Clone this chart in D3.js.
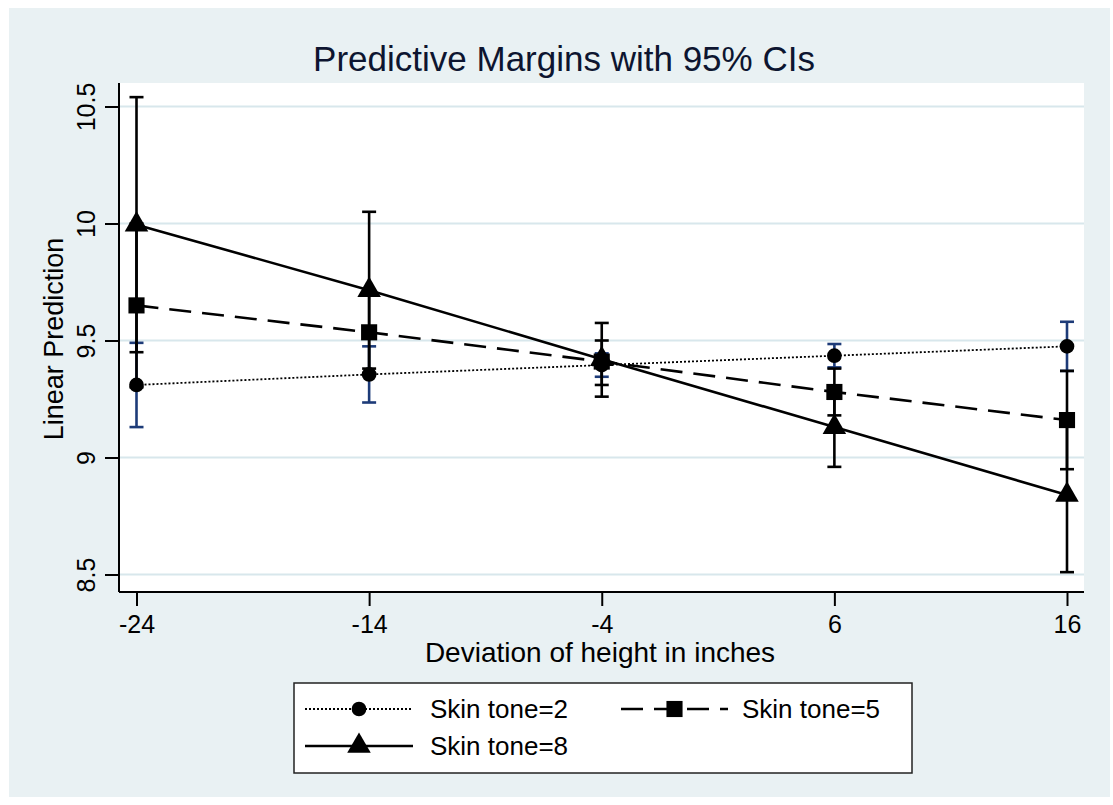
<!DOCTYPE html>
<html>
<head>
<meta charset="utf-8">
<script src="https://cdn.jsdelivr.net/npm/d3@7"></script>
<style>
  body { margin: 0; background: #fff; }
  svg { display: block; font-family: "Liberation Sans", Arial, sans-serif; }
</style>
</head>
<body>
<div id="chart"></div>
<script>
const xValues = [-24, -14, -4, 6, 16];
const xTicks = [-24, -14, -4, 6, 16];
const yTicks = [8.5, 9, 9.5, 10, 10.5];

// margins and 95% CI bounds per skin tone
const tone2 = [9.31, 9.355, 9.395, 9.435, 9.475];
const tone2Lo = [9.13, 9.235, 9.345, 9.385, 9.37];
const tone2Hi = [9.49, 9.475, 9.445, 9.485, 9.58];

const tone5 = [9.65, 9.535, 9.41, 9.28, 9.16];
const tone5Lo = [9.30, 9.36, 9.31, 9.18, 8.95];
const tone5Hi = [10.0, 9.71, 9.50, 9.38, 9.37];

const tone8 = [9.995, 9.715, 9.42, 9.13, 8.84];
const tone8Lo = [9.45, 9.38, 9.26, 8.96, 8.51];
const tone8Hi = [10.54, 10.05, 9.575, 9.30, 9.17];

const seriesNames = ['Skin tone=2', 'Skin tone=5', 'Skin tone=8'];

const width = 1113, height = 805;
const plot = { left: 119, right: 1084, top: 83, bottom: 592 };

const svg = d3.select('#chart').append('svg')
  .attr('width', width)
  .attr('height', height);

// outer graph region
svg.append('rect')
  .attr('x', 9).attr('y', 8)
  .attr('width', 1101).attr('height', 789)
  .attr('fill', '#e9f1f3');

svg.append('rect')
  .attr('x', plot.left).attr('y', plot.top)
  .attr('width', plot.right - plot.left).attr('height', plot.bottom - plot.top)
  .attr('fill', '#fff');

const x = d3.scaleLinear().domain([-24, 16]).range([136.5, 1067]);
const y = d3.scaleLinear().domain([8.5, 10.5]).range([574.5, 106.5]);

// gridlines
svg.append('g')
  .selectAll('line')
  .data(yTicks)
  .enter()
  .append('line')
  .attr('x1', plot.left).attr('x2', plot.right)
  .attr('y1', d => y(d)).attr('y2', d => y(d))
  .attr('stroke', '#d8e7ec')
  .attr('stroke-width', 2);

// axes
const yAxis = svg.append('g')
  .attr('transform', `translate(${plot.left},0)`)
  .call(d3.axisLeft(y).tickValues(yTicks).tickSize(14).tickPadding(6)
    .tickFormat(d => String(d)));
yAxis.select('.domain').attr('d', `M0,${plot.top}V${plot.bottom}`).attr('stroke', '#000').attr('stroke-width', 2);
yAxis.selectAll('.tick line').attr('stroke', '#000').attr('stroke-width', 2);
yAxis.selectAll('.tick text')
  .attr('x', null).attr('dy', null)
  .attr('transform', 'translate(-24,0) rotate(-90)')
  .attr('text-anchor', 'middle')
  .attr('fill', '#000')
  .style('font-size', '25px');

const xAxis = svg.append('g')
  .attr('transform', `translate(0,${plot.bottom})`)
  .call(d3.axisBottom(x).tickValues(xTicks).tickSize(14).tickPadding(6)
    .tickFormat(d => String(d)));
xAxis.select('.domain').attr('d', `M${plot.left},0H${plot.right}`).attr('stroke', '#000').attr('stroke-width', 2);
xAxis.selectAll('.tick line').attr('stroke', '#000').attr('stroke-width', 2);
xAxis.selectAll('.tick text')
  .attr('dy', null).attr('y', 41)
  .attr('fill', '#000')
  .style('font-size', '25px');

// titles
svg.append('text')
  .attr('x', 564).attr('y', 71)
  .attr('text-anchor', 'middle')
  .style('font-size', '35px')
  .attr('fill', '#0d1530')
  .text('Predictive Margins with 95% CIs');

svg.append('text')
  .attr('x', 600).attr('y', 662)
  .attr('text-anchor', 'middle')
  .style('font-size', '28px')
  .text('Deviation of height in inches');

svg.append('text')
  .attr('transform', 'translate(63,339) rotate(-90)')
  .attr('text-anchor', 'middle')
  .style('font-size', '27px')
  .text('Linear Prediction');

const series = [
  { mid: tone2, lo: tone2Lo, hi: tone2Hi, ci: '#1d3b78', dash: '2,2', lw: 1.8, marker: d3.symbolCircle, size: 170 },
  { mid: tone5, lo: tone5Lo, hi: tone5Hi, ci: '#000', dash: '22,11', lw: 2.6, marker: d3.symbolSquare, size: 260 },
  { mid: tone8, lo: tone8Lo, hi: tone8Hi, ci: '#000', dash: null, lw: 2.6, marker: d3.symbolTriangle, size: 240 }
];

// confidence intervals
series.forEach(s => {
  const g = svg.append('g').attr('stroke', s.ci).attr('stroke-width', 2.6);
  xValues.forEach((xv, i) => {
    g.append('line')
      .attr('x1', x(xv)).attr('x2', x(xv))
      .attr('y1', y(s.lo[i])).attr('y2', y(s.hi[i]));
    [s.lo[i], s.hi[i]].forEach(v => {
      g.append('line')
        .attr('x1', x(xv) - 7).attr('x2', x(xv) + 7)
        .attr('y1', y(v)).attr('y2', y(v));
    });
  });
});

const line = d3.line()
  .x(d => x(d[0]))
  .y(d => y(d[1]));

series.forEach(s => {
  svg.append('path')
    .datum(xValues.map((xv, i) => [xv, s.mid[i]]))
    .attr('d', line)
    .attr('fill', 'none')
    .attr('stroke', '#000')
    .attr('stroke-width', s.lw)
    .attr('stroke-dasharray', s.dash);
});

series.forEach(s => {
  svg.append('g')
    .selectAll('path')
    .data(xValues.map((xv, i) => [xv, s.mid[i]]))
    .enter()
    .append('path')
    .attr('d', d3.symbol().type(s.marker).size(s.size))
    .attr('transform', d => `translate(${x(d[0])},${y(d[1])})`)
    .attr('fill', '#000');
});

// legend
const legend = svg.append('g');
legend.append('rect')
  .attr('x', 294).attr('y', 683)
  .attr('width', 618).attr('height', 90)
  .attr('fill', '#fff')
  .attr('stroke', '#222')
  .attr('stroke-width', 1.5);

const legendPos = [
  { x0: 305, x1: 413, tx: 430, y: 709 },
  { x0: 621, x1: 728, tx: 742, y: 709 },
  { x0: 305, x1: 413, tx: 430, y: 746 }
];

series.forEach((s, i) => {
  const p = legendPos[i];
  legend.append('line')
    .attr('x1', p.x0).attr('x2', p.x1)
    .attr('y1', p.y).attr('y2', p.y)
    .attr('stroke', '#000')
    .attr('stroke-width', s.lw)
    .attr('stroke-dasharray', s.dash);
  legend.append('path')
    .attr('d', d3.symbol().type(s.marker).size(s.size))
    .attr('transform', `translate(${(p.x0 + p.x1) / 2},${p.y})`)
    .attr('fill', '#000');
  legend.append('text')
    .attr('x', p.tx).attr('y', p.y + 9)
    .style('font-size', '26px')
    .text(seriesNames[i]);
});
</script>
</body>
</html>
